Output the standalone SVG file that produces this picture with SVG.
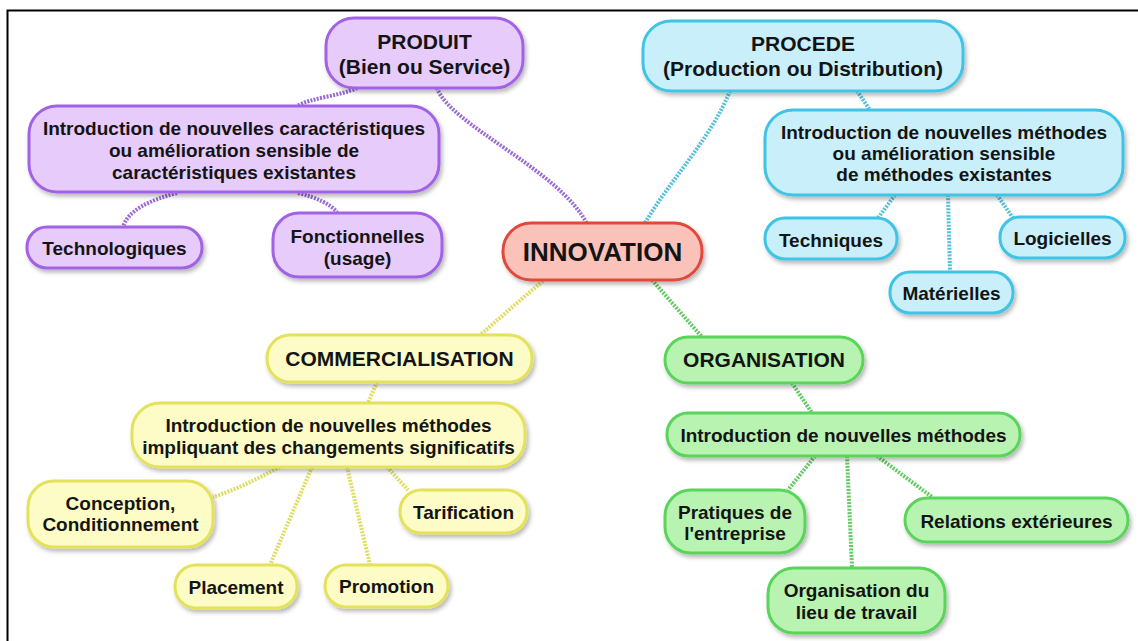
<svg xmlns="http://www.w3.org/2000/svg" width="1138" height="641" viewBox="0 0 1138 641">
<defs>
<filter id="sh" x="-10%" y="-20%" width="125%" height="150%">
<feDropShadow dx="2" dy="3" stdDeviation="2" flood-color="#000" flood-opacity="0.28"/>
</filter>
</defs>
<style>
text{font-family:"Liberation Sans",Arial,Helvetica,sans-serif;font-weight:bold;fill:#141414;text-anchor:middle}
.t{font-size:21px}
.b{font-size:19px}
.big{font-size:26px}
.n rect{stroke-width:3;filter:url(#sh)}
.pu rect{fill:#e6cbfb;stroke:#a262e6}
.cy rect{fill:#c9effb;stroke:#3fc4e6}
.ye rect{fill:#fdfcc6;stroke:#e4e25a}
.gr rect{fill:#b9f3b1;stroke:#5ad45a}
.rd rect{fill:#fbc2ba;stroke:#e2483a}
.c path{fill:none;stroke-width:4;stroke-dasharray:2 1.3}
.c .p{stroke:#9a6ad6}
.c .q{stroke:#55c0dc}
.c .y{stroke:#dedd62}
.c .g{stroke:#62ca62}
</style>
<rect x="0" y="0" width="1138" height="641" fill="#fff"/>
<path d="M7.5,641 V10.5 H1138" fill="none" stroke="#000" stroke-width="2"/>
<g id="connectors" class="c">
<path class="p" d="M437,88 C450,125 560,170 587,224"/>
<path class="p" d="M357,88 C340,96 310,98 297,106"/>
<path class="p" d="M177,193 C150,200 128,210 123,227"/>
<path class="p" d="M298,193 C318,198 330,204 337,212"/>
<path class="q" d="M730,91 C710,140 670,180 645,223"/>
<path class="q" d="M857,91 L870,110"/>
<path class="q" d="M895,195 L878,218"/>
<path class="q" d="M948,195 L950,272"/>
<path class="q" d="M997,195 L1013,218"/>
<path class="y" d="M543,281 C520,300 500,318 480,335"/>
<path class="y" d="M377,382 L368,403"/>
<path class="y" d="M280,467 C255,480 235,490 213,497"/>
<path class="y" d="M312,467 L270,565"/>
<path class="y" d="M347,467 L370,565"/>
<path class="y" d="M387,467 L408,490"/>
<path class="g" d="M652,280 L702,337"/>
<path class="g" d="M792,383 L812,413"/>
<path class="g" d="M815,456 L788,490"/>
<path class="g" d="M847,456 L852,568"/>
<path class="g" d="M877,456 L932,497"/>
</g>
<g id="produit" class="n pu"><rect x="326" y="18" width="197" height="70" rx="28"/><text class="t" x="424.5" y="49">PRODUIT</text><text class="t" x="424.5" y="73.5">(Bien ou Service)</text></g>
<g id="produit-intro" class="n pu"><rect x="29" y="106" width="410" height="86" rx="28"/><text class="b" x="234" y="135">Introduction de nouvelles caractéristiques</text><text class="b" x="234" y="157">ou amélioration sensible de</text><text class="b" x="234" y="179">caractéristiques existantes</text></g>
<g id="technologiques" class="n pu"><rect x="27" y="227" width="175" height="41" rx="20"/><text class="b" x="114.5" y="254.5">Technologiques</text></g>
<g id="fonctionnelles" class="n pu"><rect x="273" y="213" width="169" height="64" rx="26"/><text class="b" x="357.5" y="243">Fonctionnelles</text><text class="b" x="357.5" y="265">(usage)</text></g>
<g id="innovation" class="n rd"><rect x="503" y="223" width="199" height="57" rx="28"/><text class="big" x="602.5" y="261">INNOVATION</text></g>
<g id="procede" class="n cy"><rect x="643" y="21" width="320" height="70" rx="28"/><text class="t" x="803" y="50.5">PROCEDE</text><text class="t" x="803" y="75.5">(Production ou Distribution)</text></g>
<g id="procede-intro" class="n cy"><rect x="765" y="110" width="358" height="85" rx="28"/><text class="b" x="944" y="139">Introduction de nouvelles méthodes</text><text class="b" x="944" y="160">ou amélioration sensible</text><text class="b" x="944" y="181">de méthodes existantes</text></g>
<g id="techniques" class="n cy"><rect x="765" y="218" width="132" height="41" rx="20"/><text class="b" x="831" y="246.5">Techniques</text></g>
<g id="logicielles" class="n cy"><rect x="1000" y="217" width="125" height="41" rx="20"/><text class="b" x="1062.5" y="245">Logicielles</text></g>
<g id="materielles" class="n cy"><rect x="890" y="272" width="123" height="41" rx="20"/><text class="b" x="951.5" y="300">Matérielles</text></g>
<g id="commercialisation" class="n ye"><rect x="267" y="335" width="265" height="47" rx="23"/><text class="t" x="399.5" y="365.5">COMMERCIALISATION</text></g>
<g id="commercialisation-intro" class="n ye"><rect x="132" y="403" width="393" height="64" rx="28"/><text class="b" x="328.5" y="432">Introduction de nouvelles méthodes</text><text class="b" x="328.5" y="454">impliquant des changements significatifs</text></g>
<g id="conception" class="n ye"><rect x="28" y="481" width="185" height="66" rx="26"/><text class="b" x="120.5" y="510">Conception,</text><text class="b" x="120.5" y="531">Conditionnement</text></g>
<g id="tarification" class="n ye"><rect x="400" y="490" width="127" height="43" rx="21"/><text class="b" x="463.5" y="518.5">Tarification</text></g>
<g id="placement" class="n ye"><rect x="175" y="565" width="122" height="43" rx="21"/><text class="b" x="236" y="593.5">Placement</text></g>
<g id="promotion" class="n ye"><rect x="325" y="565" width="123" height="42" rx="21"/><text class="b" x="386.5" y="592.5">Promotion</text></g>
<g id="organisation" class="n gr"><rect x="665" y="337" width="198" height="46" rx="23"/><text class="t" x="764" y="366.5">ORGANISATION</text></g>
<g id="organisation-intro" class="n gr"><rect x="667" y="413" width="353" height="43" rx="21"/><text class="b" x="843.5" y="441.5">Introduction de nouvelles méthodes</text></g>
<g id="pratiques" class="n gr"><rect x="665" y="490" width="140" height="63" rx="26"/><text class="b" x="735" y="519">Pratiques de</text><text class="b" x="735" y="540">l'entreprise</text></g>
<g id="relations" class="n gr"><rect x="905" y="498" width="223" height="44" rx="22"/><text class="b" x="1016.5" y="527.5">Relations extérieures</text></g>
<g id="organisation-lieu" class="n gr"><rect x="768" y="568" width="177" height="65" rx="26"/><text class="b" x="856.5" y="597">Organisation du</text><text class="b" x="856.5" y="619">lieu de travail</text></g>
</svg>
